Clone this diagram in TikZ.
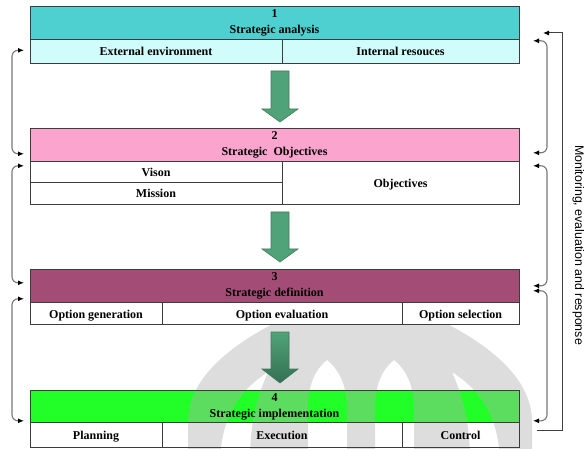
\documentclass[tikz,border=0pt]{standalone}
\usepackage{fontspec}
\setmainfont{Liberation Serif}
\newfontfamily\sidefont{Liberation Sans}
\usetikzlibrary{calc,arrows.meta}

\definecolor{boxline}{RGB}{60,60,60}
\definecolor{headA}{RGB}{78,208,208}
\definecolor{subA}{RGB}{208,252,252}
\definecolor{headB}{RGB}{250,164,206}
\definecolor{headC}{RGB}{163,76,118}
\definecolor{headD}{RGB}{34,255,40}
\definecolor{flowgreen}{RGB}{80,163,121}
\definecolor{flowdark}{RGB}{52,112,82}
\definecolor{flowedge}{RGB}{70,120,95}
\definecolor{loopgray}{RGB}{120,120,120}
\definecolor{emblemgray}{RGB}{175,175,175}

% block arrow: centre x, top y, head start y, tip y, style
\newcommand{\flowarrow}[5]{%
  \filldraw[#5] (#1-9,#2) -- (#1+9,#2) -- (#1+9,#3) -- (#1+18,#3)
    -- (#1,#4) -- (#1-18,#3) -- (#1-9,#3) -- cycle;}

\begin{document}
\begin{tikzpicture}[x=1pt,y=-1pt,
  base/.style={rectangle, draw=boxline, line width=0.9pt, inner sep=0pt,
    outer sep=0pt, anchor=north west},
  hdr/.style={base, align=center, yshift=-0.8pt,
    font=\fontsize{12}{16}\selectfont\bfseries},
  cell/.style={base, fill=white, text height=8pt, text depth=0pt,
    font=\fontsize{12}{14}\selectfont\bfseries},
  flow/.style={draw=flowedge, line width=0.6pt, fill=flowgreen},
  loop/.style={draw=loopgray, line width=1.1pt, rounded corners=6pt,
    {Latex[length=6pt,width=5pt,color=black]}-{Latex[length=6pt,width=5pt,color=black]}},
  outerloop/.style={draw=black!75, line width=1pt,
    -{Latex[length=6pt,width=5pt,color=black]}},
  emblem/.style={fill=emblemgray, fill opacity=0.42, even odd rule}]

\useasboundingbox (0,0) rectangle (584,449);
\fill[white] (0,0) rectangle (584,449);

% ---- stage 4 background fills (the emblem lies over them) ----
\fill[headD] (30,390) rectangle (519,422);

% ---- faint dome emblem over the lower part ----
\begin{scope}
  \clip (0,0) rectangle (584,449);
  \path[emblem]
    % dome
    (360,285) .. controls (300,310) and (190,350) .. (188,420) -- (188,460)
      -- (532,460) -- (532,420) .. controls (530,350) and (420,310) .. (360,285) -- cycle
    % side crescents
    (268,372) .. controls (240,390) and (222,415) .. (220,460) -- (250,460)
      .. controls (250,420) and (258,395) .. (268,372) -- cycle
    (452,372) .. controls (480,390) and (498,415) .. (500,460) -- (470,460)
      .. controls (470,420) and (462,395) .. (452,372) -- cycle
    % inner openings beside the central spike
    (327,360) .. controls (312,372) and (308,390) .. (308,410) -- (308,460)
      -- (347,460) -- (347,410) .. controls (347,390) and (342,372) .. (327,360) -- cycle
    (394,360) .. controls (379,372) and (375,390) .. (375,410) -- (375,460)
      -- (414,460) -- (414,410) .. controls (414,390) and (409,372) .. (394,360) -- cycle;
\end{scope}

% ---- stage 4 ----
\node[hdr, minimum width=489pt, minimum height=32pt] (h4) at (30,390) {4\\Strategic implementation};
\node[cell, fill=none, minimum width=132pt, minimum height=25pt] (pl) at (30,422) {\raisebox{-1pt}{Planning}};
\node[cell, fill=none, minimum width=240pt, minimum height=25pt] (ex) at (162,422) {\raisebox{-1pt}{Execution}};
\node[cell, fill=none, minimum width=117pt, minimum height=25pt] (ct) at (402,422) {\raisebox{-1pt}{Control}};

% ---- stage 1 ----
\node[hdr, fill=headA, minimum width=489pt, minimum height=33pt] (h1) at (30,6) {1\\Strategic analysis};
\node[cell, fill=subA, minimum width=252pt, minimum height=24pt] (ext) at (30,39) {\raisebox{-1pt}{External environment}};
\node[cell, fill=subA, minimum width=237pt, minimum height=24pt] (int) at (282,39) {\raisebox{-1pt}{Internal resouces}};

% ---- stage 2 ----
\node[hdr, fill=headB, minimum width=489pt, minimum height=33pt] (h2) at (30,128) {2\\Strategic\ \ Objectives};
\node[cell, minimum width=252pt, minimum height=21pt] (vis) at (30,161) {\raisebox{-1pt}{Vison}};
\node[cell, minimum width=252pt, minimum height=22pt] (mis) at (30,182) {\raisebox{-1pt}{Mission}};
\node[cell, minimum width=237pt, minimum height=43pt] (obj) at (282,161) {\raisebox{-1pt}{Objectives}};

% ---- stage 3 ----
\node[hdr, fill=headC, minimum width=489pt, minimum height=33pt] (h3) at (30,269) {3\\Strategic definition};
\node[cell, minimum width=132pt, minimum height=22pt] (og) at (30,302) {\raisebox{-1pt}{Option generation}};
\node[cell, minimum width=240pt, minimum height=22pt] (oe) at (162,302) {\raisebox{-1pt}{Option evaluation}};
\node[cell, minimum width=117pt, minimum height=22pt] (os) at (402,302) {\raisebox{-1pt}{Option selection}};

% ---- flow arrows between stages ----
\flowarrow{280}{71}{109}{122}{flow}
\flowarrow{280}{212}{249}{262}{flow}
\flowarrow{280}{332}{369}{383}{flow, top color=flowgreen, bottom color=flowdark}

% ---- feedback links on the left ----
\coordinate (la1) at ($(h1.west)+(-6,27)$);
\coordinate (la2) at ($(h2.west)+(-6,8.5)$);
\coordinate (lb1) at ($(h2.west)+(-6,20.5)$);
\coordinate (lb2) at ($(h3.west)+(-6,-3.5)$);
\coordinate (lc1) at ($(h3.west)+(-6,12.5)$);
\coordinate (lc2) at ($(h4.west)+(-6,14)$);
\draw[loop] (la1) -- ++(-12,0) |- (la2);
\draw[loop] (lb1) -- ++(-12,0) |- (lb2);
\draw[loop] (lc1) -- ++(-12,0) |- (lc2);

% ---- feedback links on the right ----
\coordinate (ra1) at ($(h1.east)+(14,17.5)$);
\coordinate (ra2) at ($(h2.east)+(14,7.5)$);
\coordinate (rb1) at ($(h2.east)+(14,20.5)$);
\coordinate (rb2) at ($(h3.east)+(14,-0.5)$);
\coordinate (rc1) at ($(h3.east)+(14,4.5)$);
\coordinate (rc2) at ($(h4.east)+(14,14)$);
\draw[loop] (ra1) -- ++(14,0) |- (ra2);
\draw[loop] (rb1) -- ++(14,0) |- (rb2);
\draw[loop] (rc1) -- ++(14,0) |- (rc2);

% ---- monitoring loop ----
\coordinate (mstart) at (537,430);
\coordinate (mend) at (543,33);
\draw[outerloop] (mstart) -- (562,430) -- (562,33) -- (mend);
\node[rotate=-90, anchor=base, inner sep=0pt, font=\sidefont\fontsize{12.4}{14}\selectfont]
  (mon) at (575,245) {Monitoring, evaluation and response};

\end{tikzpicture}
\end{document}
